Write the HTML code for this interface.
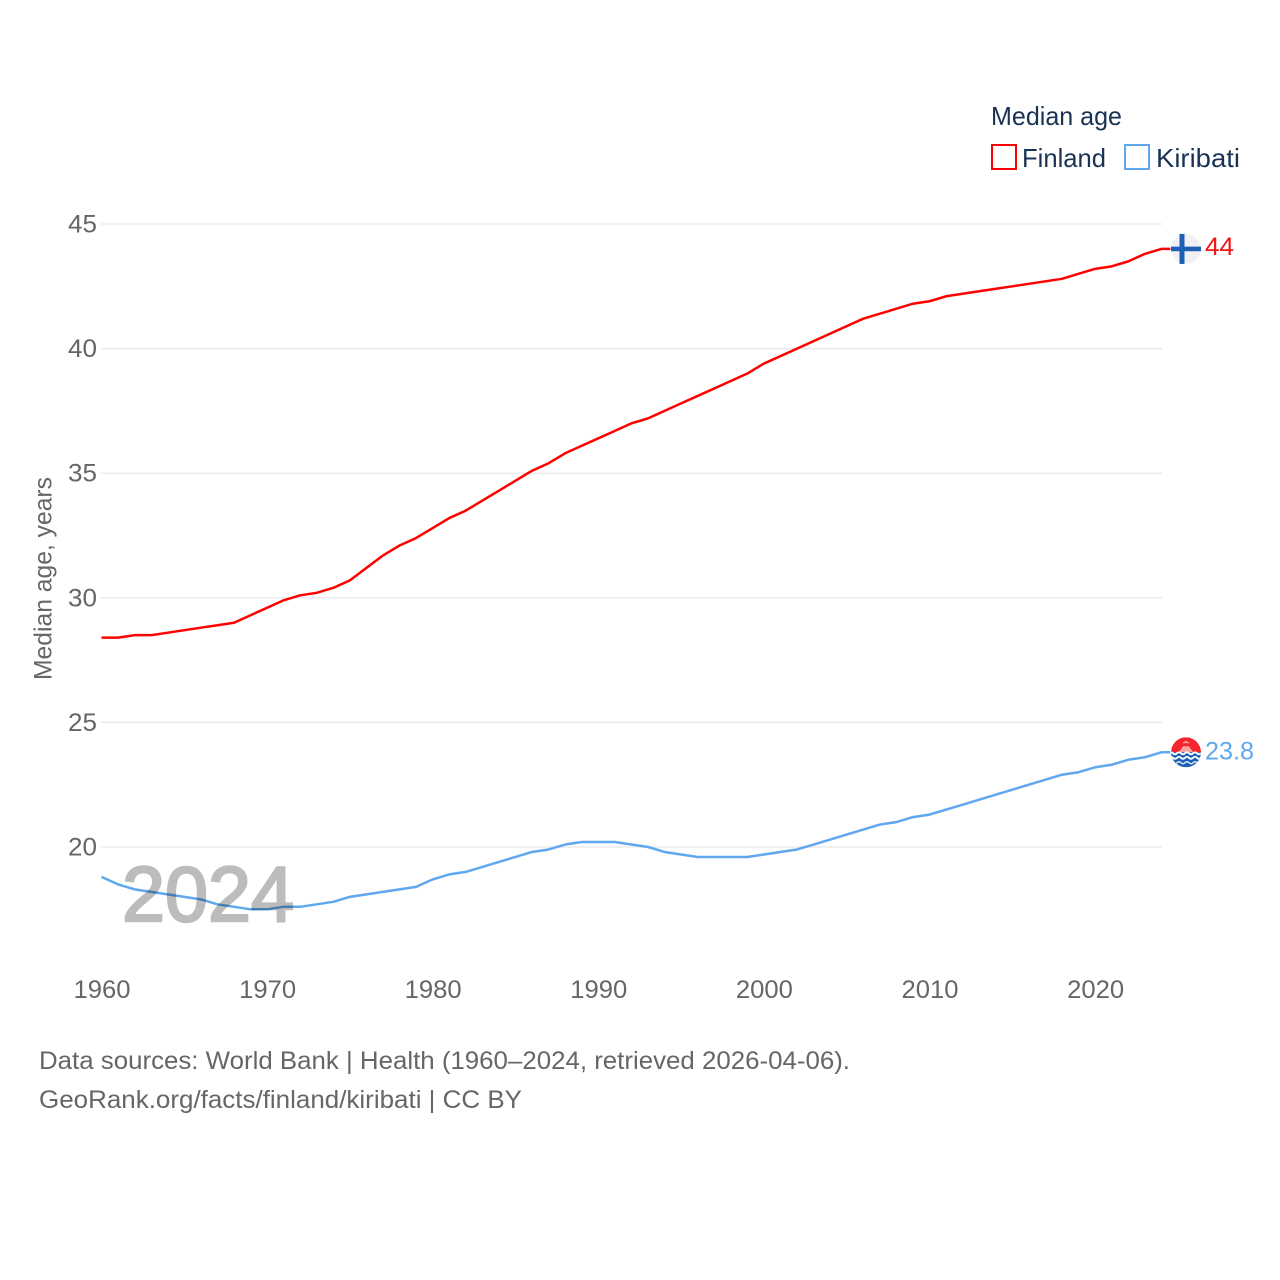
<!DOCTYPE html>
<html lang="en">
<head>
<meta charset="utf-8">
<title>Median age: Finland and Kiribati</title>
<style>
  html, body { margin: 0; padding: 0; background: #fff; }
  svg { display: block; }
  text { font-family: "Liberation Sans", "DejaVu Sans", sans-serif; }
</style>
</head>
<body>
<svg id="chart" xmlns="http://www.w3.org/2000/svg" width="1280" height="1280" viewBox="0 0 1280 1280">
  <rect width="1280" height="1280" fill="#fff"/>
  <g id="grid"></g>
  <g id="yticks"></g>
  <g id="xticks"></g>
  <text transform="translate(51.5,680) rotate(-90)" font-size="25" fill="#666" textLength="203" lengthAdjust="spacingAndGlyphs">Median age, years</text>

  <path id="line-finland" fill="none" stroke="#ff0000" stroke-width="2.5" stroke-linejoin="round"/>
  <path id="line-kiribati" fill="none" stroke="#5fa8ef" stroke-width="2.5" stroke-linejoin="round"/>
  <text x="122" y="921" font-size="78" fill="#bcbcbc" stroke="#bcbcbc" stroke-width="2.4" textLength="172" lengthAdjust="spacingAndGlyphs" style="mix-blend-mode:multiply">2024</text>

  <g id="flag-finland">
    <circle cx="1186" cy="0" r="15" fill="#f1f1f3"/>
    <rect x="1171" y="-2.3" width="30" height="4.6" fill="#1c5fb5"/>
    <rect x="1179.5" y="-15" width="5" height="30" fill="#1c5fb5"/>
  </g>
  <g id="flag-kiribati">
    <clipPath id="kiribati-clip"><circle cx="1186" cy="0" r="15"/></clipPath>
    <g clip-path="url(#kiribati-clip)">
      <rect x="1171" y="-15" width="30" height="15" fill="#f5252f"/>
      <path d="M1179 0 L1183 -6 L1189 -6 L1193 0 Z" fill="#f9a49c"/>
      <path d="M1182 -9 L1186 -11.5 L1190 -9 Z" fill="#f9a49c"/>
      <rect x="1171" y="0" width="30" height="15" fill="#1c5fb5"/>
      <path d="M1169 1 q2 -2 4 0 t4 0 t4 0 t4 0 t4 0 t4 0 t4 0 t4 0" fill="none" stroke="#ffffff" stroke-width="1.8"/>
      <path d="M1169 5.5 q2 -2 4 0 t4 0 t4 0 t4 0 t4 0 t4 0 t4 0 t4 0" fill="none" stroke="#ffffff" stroke-width="1.8"/>
      <path d="M1169 10.5 q2 -2 4 0 t4 0 t4 0 t4 0 t4 0 t4 0 t4 0 t4 0" fill="none" stroke="#dfe9f6" stroke-width="1.4"/>
    </g>
  </g>
  <text id="value-finland" x="1205" font-size="25" fill="#f01414" textLength="29" lengthAdjust="spacingAndGlyphs"></text>
  <text id="value-kiribati" x="1205" font-size="25" fill="#5fa8ef" textLength="49" lengthAdjust="spacingAndGlyphs"></text>

  <g>
    <text x="991" y="125" font-size="26" fill="#1a3355" textLength="131" lengthAdjust="spacingAndGlyphs">Median age</text>
    <g>
      <rect x="992" y="145" width="24" height="24" fill="none" stroke="#ff0000" stroke-width="2"/>
      <text x="1022" y="167" font-size="26" fill="#1a3355" textLength="84" lengthAdjust="spacingAndGlyphs">Finland</text>
    </g>
    <g>
      <rect x="1125" y="145" width="24" height="24" fill="none" stroke="#5fa8ef" stroke-width="2"/>
      <text x="1156" y="167" font-size="26" fill="#1a3355" textLength="84" lengthAdjust="spacingAndGlyphs">Kiribati</text>
    </g>
  </g>

  <text x="39" y="1069" font-size="25" fill="#666" textLength="811" lengthAdjust="spacingAndGlyphs">Data sources: World Bank | Health (1960–2024, retrieved 2026-04-06).</text>
  <text x="39" y="1108" font-size="25" fill="#666" textLength="483" lengthAdjust="spacingAndGlyphs">GeoRank.org/facts/finland/kiribati | CC BY</text>
</svg>

<script>
const years = [1960,1961,1962,1963,1964,1965,1966,1967,1968,1969,1970,1971,1972,1973,1974,1975,1976,1977,1978,1979,1980,1981,1982,1983,1984,1985,1986,1987,1988,1989,1990,1991,1992,1993,1994,1995,1996,1997,1998,1999,2000,2001,2002,2003,2004,2005,2006,2007,2008,2009,2010,2011,2012,2013,2014,2015,2016,2017,2018,2019,2020,2021,2022,2023,2024];
const finland = [28.4,28.4,28.5,28.5,28.6,28.7,28.8,28.9,29.0,29.3,29.6,29.9,30.1,30.2,30.4,30.7,31.2,31.7,32.1,32.4,32.8,33.2,33.5,33.9,34.3,34.7,35.1,35.4,35.8,36.1,36.4,36.7,37.0,37.2,37.5,37.8,38.1,38.4,38.7,39.0,39.4,39.7,40.0,40.3,40.6,40.9,41.2,41.4,41.6,41.8,41.9,42.1,42.2,42.3,42.4,42.5,42.6,42.7,42.8,43.0,43.2,43.3,43.5,43.8,44.0];
const kiribati = [18.8,18.5,18.3,18.2,18.1,18.0,17.9,17.7,17.6,17.5,17.5,17.6,17.6,17.7,17.8,18.0,18.1,18.2,18.3,18.4,18.7,18.9,19.0,19.2,19.4,19.6,19.8,19.9,20.1,20.2,20.2,20.2,20.1,20.0,19.8,19.7,19.6,19.6,19.6,19.6,19.7,19.8,19.9,20.1,20.3,20.5,20.7,20.9,21.0,21.2,21.3,21.5,21.7,21.9,22.1,22.3,22.5,22.7,22.9,23.0,23.2,23.3,23.5,23.6,23.8];
const yTickValues = [20,25,30,35,40,45];
const xTickValues = [1960,1970,1980,1990,2000,2010,2020];

const SVG_NS = 'http://www.w3.org/2000/svg';
function xScale(year) { return 101.5 + (year - 1960) * 16.56; }
function yScale(value) { return 847 - (value - 20) * 24.92; }

function make(tag, attrs, parent, text) {
  const el = document.createElementNS(SVG_NS, tag);
  for (const k in attrs) el.setAttribute(k, attrs[k]);
  if (text !== undefined) el.textContent = text;
  parent.appendChild(el);
  return el;
}

const gridGroup = document.getElementById('grid');
const yTickGroup = document.getElementById('yticks');
const xTickGroup = document.getElementById('xticks');

yTickValues.forEach(function (v) {
  const y = yScale(v);
  const line = make('line', { x1: 101, x2: 1162, y1: y, y2: y, stroke: '#e6e6e6', 'stroke-width': 1.2 }, gridGroup);
  
  
  const label = make('text', { x: 68, y: y + 8.5, 'font-size': 25, fill: '#666', textLength: 29, lengthAdjust: 'spacingAndGlyphs' }, yTickGroup, String(v));
  
  
});

xTickValues.forEach(function (year) {
  const label = make('text', { x: xScale(year) - 28, y: 998, 'font-size': 25, fill: '#666', textLength: 57, lengthAdjust: 'spacingAndGlyphs' }, xTickGroup, String(year));
  
  
});

function buildPath(values) {
  let d = values.map(function (v, i) {
    return (i ? 'L' : 'M') + xScale(years[i]).toFixed(2) + ' ' + yScale(v).toFixed(2);
  }).join(' ');
  const last = values[values.length - 1];
  d += ' L' + (xScale(years[years.length - 1]) + 9).toFixed(2) + ' ' + yScale(last).toFixed(2);
  return d;
}

document.getElementById('line-finland').setAttribute('d', buildPath(finland));
document.getElementById('line-kiribati').setAttribute('d', buildPath(kiribati));

const finlandLast = finland[finland.length - 1];
const kiribatiLast = kiribati[kiribati.length - 1];
document.getElementById('flag-finland').setAttribute('transform', 'translate(0,' + yScale(finlandLast) + ')');
document.getElementById('flag-kiribati').setAttribute('transform', 'translate(0,' + yScale(kiribatiLast) + ')');

const valueFinland = document.getElementById('value-finland');
valueFinland.setAttribute('y', yScale(finlandLast) + 6);
valueFinland.textContent = String(finlandLast);
const valueKiribati = document.getElementById('value-kiribati');
valueKiribati.setAttribute('y', yScale(kiribatiLast) + 7);
valueKiribati.textContent = String(kiribatiLast);
</script>
</body>
</html>
